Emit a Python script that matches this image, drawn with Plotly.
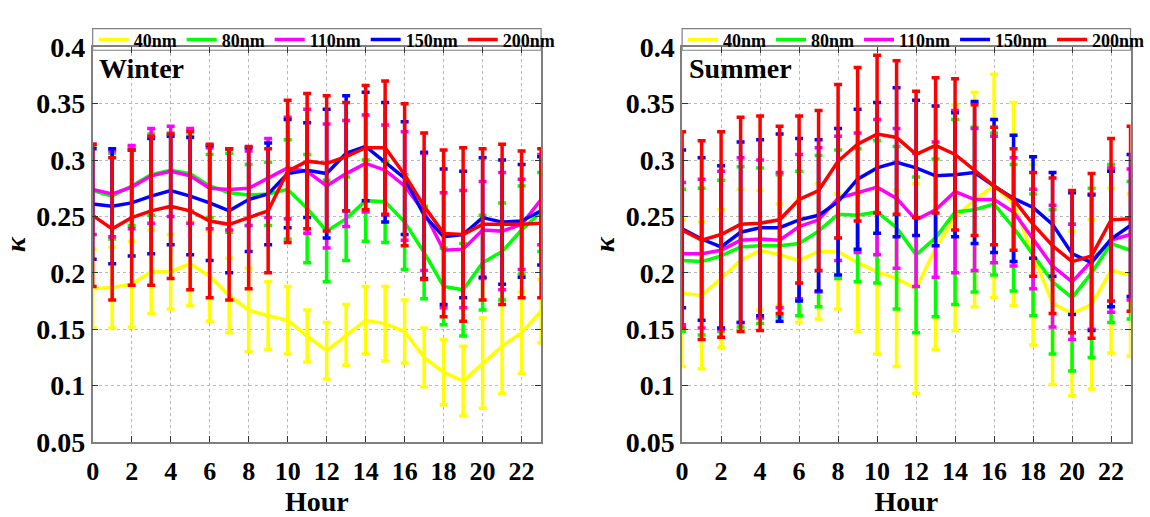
import plotly.graph_objects as go

# ---------------------------------------------------------------------------
# Diurnal variation of the hygroscopicity parameter kappa by particle size
# ---------------------------------------------------------------------------
hours = list(range(24))
sizes = ["40nm", "80nm", "110nm", "150nm", "200nm"]
colors = ["#FFFF00", "#00FF00", "#FF00FF", "#0000FF", "#FF0000"]

# Winter: hourly means and standard deviations
winter_40_mean = [0.186, 0.187, 0.190, 0.201, 0.201, 0.208, 0.197, 0.180, 0.167, 0.162, 0.158, 0.144,
                  0.131, 0.145, 0.158, 0.155, 0.148, 0.125, 0.112, 0.104, 0.120, 0.135, 0.147, 0.166]
winter_40_err = [0.035, 0.036, 0.038, 0.037, 0.033, 0.037, 0.040, 0.033, 0.037, 0.030, 0.030, 0.023,
                 0.025, 0.027, 0.030, 0.033, 0.028, 0.026, 0.029, 0.031, 0.040, 0.042, 0.036, 0.028]
winter_80_mean = [0.273, 0.268, 0.277, 0.287, 0.291, 0.288, 0.277, 0.271, 0.269, 0.270, 0.274, 0.257,
                  0.237, 0.248, 0.264, 0.263, 0.245, 0.218, 0.188, 0.185, 0.209, 0.219, 0.238, 0.254]
winter_80_err = [0.039, 0.038, 0.035, 0.036, 0.033, 0.033, 0.028, 0.035, 0.027, 0.028, 0.044, 0.048,
                 0.045, 0.037, 0.036, 0.036, 0.042, 0.041, 0.034, 0.041, 0.042, 0.043, 0.039, 0.035]
winter_110_mean = [0.274, 0.270, 0.276, 0.286, 0.290, 0.286, 0.275, 0.274, 0.275, 0.284, 0.293, 0.290,
                   0.277, 0.288, 0.297, 0.291, 0.277, 0.254, 0.220, 0.221, 0.238, 0.237, 0.243, 0.265]
winter_110_err = [0.040, 0.038, 0.037, 0.042, 0.040, 0.042, 0.036, 0.036, 0.033, 0.035, 0.045, 0.055,
                  0.055, 0.047, 0.043, 0.040, 0.048, 0.052, 0.051, 0.052, 0.043, 0.052, 0.040, 0.040]
winter_150_mean = [0.261, 0.259, 0.262, 0.268, 0.273, 0.268, 0.262, 0.255, 0.265, 0.270, 0.288, 0.291,
                   0.288, 0.306, 0.312, 0.298, 0.284, 0.251, 0.232, 0.234, 0.249, 0.245, 0.246, 0.255]
winter_150_err = [0.049, 0.051, 0.047, 0.051, 0.048, 0.052, 0.051, 0.055, 0.046, 0.045, 0.048, 0.042,
                  0.057, 0.051, 0.048, 0.053, 0.050, 0.056, 0.060, 0.056, 0.053, 0.055, 0.050, 0.048]
winter_200_mean = [0.251, 0.239, 0.249, 0.255, 0.259, 0.255, 0.246, 0.243, 0.249, 0.255, 0.290, 0.299,
                   0.297, 0.303, 0.311, 0.311, 0.287, 0.259, 0.235, 0.234, 0.243, 0.243, 0.243, 0.244]
winter_200_err = [0.063, 0.063, 0.060, 0.066, 0.064, 0.070, 0.068, 0.067, 0.063, 0.055, 0.063, 0.060,
                  0.060, 0.048, 0.055, 0.059, 0.063, 0.065, 0.074, 0.077, 0.067, 0.071, 0.065, 0.066]

# Summer: hourly means and standard deviations
summer_40_mean = [0.182, 0.180, 0.195, 0.211, 0.220, 0.216, 0.211, 0.219, 0.219, 0.209, 0.201, 0.195,
                  0.186, 0.222, 0.249, 0.265, 0.277, 0.261, 0.216, 0.173, 0.164, 0.172, 0.202, 0.198]
summer_40_err = [0.065, 0.065, 0.061, 0.063, 0.053, 0.045, 0.055, 0.060, 0.051, 0.061, 0.073, 0.078,
                 0.093, 0.090, 0.100, 0.095, 0.099, 0.090, 0.080, 0.072, 0.073, 0.075, 0.073, 0.072]
summer_80_mean = [0.211, 0.210, 0.215, 0.223, 0.224, 0.224, 0.226, 0.237, 0.252, 0.251, 0.254, 0.240,
                  0.216, 0.231, 0.254, 0.256, 0.261, 0.240, 0.216, 0.192, 0.178, 0.200, 0.226, 0.220]
summer_80_err = [0.063, 0.065, 0.067, 0.071, 0.069, 0.063, 0.064, 0.067, 0.057, 0.059, 0.063, 0.072,
                 0.069, 0.070, 0.082, 0.073, 0.063, 0.056, 0.054, 0.064, 0.065, 0.075, 0.070, 0.061]
summer_110_mean = [0.217, 0.217, 0.220, 0.229, 0.230, 0.229, 0.241, 0.247, 0.266, 0.271, 0.276, 0.266,
                   0.247, 0.256, 0.272, 0.265, 0.265, 0.254, 0.230, 0.206, 0.192, 0.210, 0.229, 0.234]
summer_110_err = [0.063, 0.066, 0.070, 0.073, 0.070, 0.060, 0.064, 0.064, 0.055, 0.053, 0.060, 0.062,
                  0.059, 0.060, 0.072, 0.063, 0.056, 0.048, 0.044, 0.054, 0.051, 0.060, 0.064, 0.058]
summer_150_mean = [0.239, 0.230, 0.223, 0.236, 0.240, 0.240, 0.247, 0.251, 0.263, 0.283, 0.293, 0.298,
                   0.293, 0.286, 0.287, 0.289, 0.277, 0.266, 0.258, 0.243, 0.217, 0.209, 0.230, 0.242]
summer_150_err = [0.070, 0.072, 0.072, 0.080, 0.078, 0.083, 0.072, 0.067, 0.065, 0.062, 0.058, 0.066,
                  0.060, 0.062, 0.055, 0.063, 0.059, 0.056, 0.045, 0.046, 0.054, 0.060, 0.060, 0.063]
summer_200_mean = [0.238, 0.229, 0.234, 0.243, 0.244, 0.247, 0.265, 0.273, 0.299, 0.314, 0.323, 0.320,
                   0.305, 0.313, 0.305, 0.291, 0.277, 0.265, 0.243, 0.224, 0.210, 0.215, 0.247, 0.248]
summer_200_err = [0.087, 0.088, 0.091, 0.095, 0.095, 0.083, 0.074, 0.071, 0.068, 0.068, 0.070, 0.068,
                  0.056, 0.060, 0.067, 0.058, 0.052, 0.045, 0.046, 0.060, 0.063, 0.073, 0.072, 0.082]

x_ticks = list(range(0, 23, 2))
y_ticks = [0.05, 0.1, 0.15, 0.2, 0.25, 0.3, 0.35, 0.4]
y_ticktext = ["0.05", "0.1", "0.15", "0.2", "0.25", "0.3", "0.35", "0.4"]

winter_means = [winter_40_mean, winter_80_mean, winter_110_mean, winter_150_mean, winter_200_mean]
winter_errs = [winter_40_err, winter_80_err, winter_110_err, winter_150_err, winter_200_err]
summer_means = [summer_40_mean, summer_80_mean, summer_110_mean, summer_150_mean, summer_200_mean]
summer_errs = [summer_40_err, summer_80_err, summer_110_err, summer_150_err, summer_200_err]

FONT = "Liberation Serif"
W, H = 1150, 517

fig = go.Figure()


def add_panel(means, errs, xaxis, yaxis, legend):
    for name, color, m, e in zip(sizes, colors, means, errs):
        fig.add_trace(go.Scatter(
            x=hours, y=m, name=name, mode="lines",
            line=dict(color=color, width=3.5),
            error_y=dict(type="data", array=e, visible=True, color=color,
                         thickness=3.5, width=4),
            xaxis=xaxis, yaxis=yaxis, legend=legend,
        ))


add_panel(winter_means, winter_errs, "x", "y", "legend")
add_panel(summer_means, summer_errs, "x2", "y2", "legend2")

# panel geometry in pixels
px_left = [(87.5, 545.5), (689.5, 1147.5)]
py_top, py_bot = 34.3, 454.3
ydom = [1 - py_bot / H, 1 - py_top / H]

axis_common = dict(
    showline=True, linecolor="#7f7f7f", linewidth=1.5, mirror="ticks",
    ticks="inside", ticklen=6, tickcolor="#333333", tickwidth=1,
    showgrid=True, gridcolor="#b8b8b8", griddash="dot", gridwidth=1,
    zeroline=False,
)

for i, (l, r) in enumerate(px_left):
    sfx = "" if i == 0 else "2"
    fig.update_layout(**{
        "xaxis" + sfx: dict(
            axis_common, domain=[l / W, r / W], range=[0, 23],
            tickmode="array", tickvals=x_ticks, ticklabelstandoff=5,
            tickfont=dict(family=FONT, size=26, color="black", weight="bold"),
            anchor="y" + sfx,
            title=dict(text="Hour", standoff=0,
                       font=dict(family=FONT, size=28, color="black", weight="bold")),
        ),
        "yaxis" + sfx: dict(
            axis_common, domain=ydom, range=[0.05, 0.4],
            tickmode="array", tickvals=y_ticks, ticktext=y_ticktext,
            tickfont=dict(family=FONT, size=28, color="black", weight="bold"),
            anchor="x" + sfx,
            title=dict(text="<i>κ</i>", standoff=3,
                       font=dict(family=FONT, size=28, color="black", weight="bold")),
        ),
    })

# legends sit in a framed strip above each panel
legend_common = dict(
    orientation="h", xanchor="left", yanchor="middle",
    bgcolor="rgba(0,0,0,0)", borderwidth=0,
    font=dict(family=FONT, size=18, color="black", weight="bold"),
    itemwidth=30, tracegroupgap=0,
)
shapes = []
for i, (l, r) in enumerate(px_left):
    key = "legend" if i == 0 else "legend2"
    fig.update_layout(**{key: dict(legend_common, x=(l + 1) / W, y=1 - 26.5 / H)})
    shapes.append(dict(type="rect", xref="paper", yref="paper",
                       x0=l / W, x1=r / W, y0=1 - 37.5 / H, y1=1 - 14.5 / H,
                       line=dict(color="#7f7f7f", width=1.2), fillcolor="rgba(0,0,0,0)",
                       layer="below"))

annotations = [
    dict(text="Winter", xref="x domain", yref="y domain", x=0.01, y=0.946,
         xanchor="left", yanchor="middle", showarrow=False,
         font=dict(family=FONT, size=28, color="black", weight="bold")),
    dict(text="Summer", xref="x2 domain", yref="y2 domain", x=0.012, y=0.946,
         xanchor="left", yanchor="middle", showarrow=False,
         font=dict(family=FONT, size=28, color="black", weight="bold")),
]

fig.update_layout(
    width=W, height=H,
    margin=dict(l=0, r=0, t=0, b=0),
    paper_bgcolor="white", plot_bgcolor="white",
    shapes=shapes, annotations=annotations,
    showlegend=True,
)

fig.write_html("out.html")
